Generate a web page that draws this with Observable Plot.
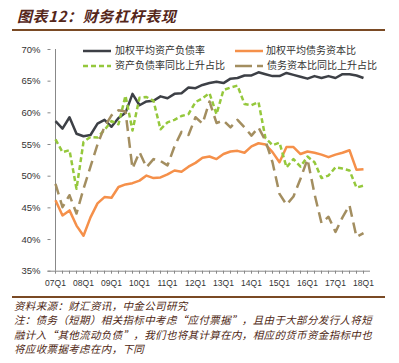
<!DOCTYPE html>
<html><head><meta charset="utf-8">
<script src="https://cdn.jsdelivr.net/npm/d3@7"></script>
<script src="https://cdn.jsdelivr.net/npm/@observablehq/plot@0.6"></script>
<style>
body{margin:0;background:#fff;}
#wrap{position:relative;width:399px;height:363px;overflow:hidden;background:#fff;font-family:"Noto Sans CJK SC","Noto Sans",sans-serif;}
#chart{position:absolute;left:0;top:0;}
#title{position:absolute;left:17px;top:6px;font-size:15px;line-height:20px;font-style:italic;font-weight:bold;color:#55261a;letter-spacing:0.6px;white-space:nowrap;}
.rule{position:absolute;left:12px;width:373px;background:#7a4a24;}
.leg{position:absolute;font-size:10px;line-height:12px;color:#333;white-space:nowrap;}
.sw{position:absolute;}
.foot{position:absolute;left:14px;font-size:10.5px;line-height:13px;height:13px;font-style:italic;color:#4e1f12;white-space:nowrap;letter-spacing:0.35px;}
</style>
</head><body>
<div id="wrap">
  <div id="chart"></div>
  <div id="title">图表12：财务杠杆表现</div>
  <div class="rule" style="top:29px;height:1.5px;"></div>
  <div id="legend"></div>
  <div class="rule" style="top:296px;height:2px;"></div>
  <div id="footer"></div>
</div>
<script>
// ---- data ----
const quarters = ["07Q1","07Q2","07Q3","07Q4","08Q1","08Q2","08Q3","08Q4","09Q1","09Q2","09Q3","09Q4",
  "10Q1","10Q2","10Q3","10Q4","11Q1","11Q2","11Q3","11Q4","12Q1","12Q2","12Q3","12Q4",
  "13Q1","13Q2","13Q3","13Q4","14Q1","14Q2","14Q3","14Q4","15Q1","15Q2","15Q3","15Q4",
  "16Q1","16Q2","16Q3","16Q4","17Q1","17Q2","17Q3","17Q4","18Q1"];
const xTickLabels = ["07Q1","08Q1","09Q1","10Q1","11Q1","12Q1","13Q1","14Q1","15Q1","16Q1","17Q1","18Q1"];
const yTicks = [35,40,45,50,55,60,65,70];

const seriesNames = ["加权平均资产负债率","加权平均债务资本比","资产负债率同比上升占比","债务资本比同比上升占比"];
const weightedDebtRatio = [58.7,57.5,59.3,56.7,56.3,56.5,58.3,58.9,57.8,59.2,60.0,63.0,61.2,61.8,61.9,62.6,62.3,63.0,63.1,64.0,
  63.9,64.4,64.7,64.9,64.7,65.4,65.5,65.9,65.9,66.4,66.1,65.8,65.8,66.3,66.0,65.7,65.4,65.8,65.5,65.8,65.5,66.1,66.1,65.9,65.5];
const weightedDebtCapital = [46.2,43.8,44.6,42.2,40.6,43.5,45.7,46.7,46.6,48.3,48.7,48.9,49.3,50.1,49.7,49.8,50.3,50.9,50.7,51.5,
  52.1,52.9,53.1,52.7,53.5,53.9,54.0,53.7,54.7,55.2,55.0,53.8,52.2,54.6,54.6,53.5,53.9,53.7,53.4,53.0,53.4,53.7,54.1,51.0,51.1];
const debtRatioUpShare = [55.8,53.8,54.1,48.0,55.4,56.2,56.1,57.3,58.7,58.2,62.7,57.2,62.4,62.5,61.9,57.4,58.5,58.9,59.5,59.8,
  61.7,62.3,63.1,59.8,63.6,64.0,64.3,61.4,61.2,61.7,56.0,54.9,55.3,51.4,52.7,51.5,53.1,52.2,49.7,50.1,51.4,51.2,50.9,48.2,48.5];
const debtCapitalUpShare = [48.8,45.1,47.0,44.1,48.0,51.5,55.0,57.8,59.6,60.4,60.2,51.2,53.8,51.4,52.7,52.4,51.7,54.7,57.0,56.5,
  59.3,58.3,61.8,58.4,58.8,57.7,58.9,57.7,56.4,57.7,55.6,52.2,47.2,45.5,46.8,49.6,52.7,47.2,42.6,43.6,41.2,43.5,45.4,40.4,41.0];

const colors = ["#3d4046","#f5904a","#95c83c","#a38e60"];
const dashes = [null, null, "5,3", "11,6"];
const allSeries = [weightedDebtRatio, weightedDebtCapital, debtRatioUpShare, debtCapitalUpShare];

const rows = vals => quarters.map((q, i) => ({q, v: vals[i]}));

const plot = Plot.plot({
  width: 399, height: 292,
  marginLeft: 47.5, marginRight: 29, marginTop: 49, marginBottom: 21.3,
  x: {type: "point", domain: quarters, padding: 0},
  y: {domain: [35, 70]},
  style: {fontFamily: "Arial, 'Liberation Sans', sans-serif", fontSize: "9px", color: "#333", background: "transparent", overflow: "visible"},
  marks: [
    Plot.axisY({ticks: yTicks, tickFormat: d => d + "%", tickSize: 0, tickPadding: 7.5, label: null, fontSize: 9.5}),
    Plot.axisY({ticks: yTicks, tickFormat: () => "", tickSize: 3, dx: 3, stroke: "#888", label: null}),
    Plot.axisX({ticks: quarters, tickFormat: () => "", tickSize: 3, stroke: "#888", label: null}),
    Plot.axisX({ticks: xTickLabels, tickSize: 0, tickPadding: 8.5, label: null, fontSize: 8.5}),
    Plot.ruleX([quarters[0]], {stroke: "#888", strokeWidth: 1}),
    Plot.ruleY([35], {stroke: "#888", strokeWidth: 1}),
    ...allSeries.map((s, k) => Plot.line(rows(s), {
      x: "q", y: "v", stroke: colors[k], strokeWidth: 2.5,
      strokeDasharray: dashes[k] || undefined, strokeLinejoin: "round", strokeLinecap: "butt"
    }))
  ]
});
document.getElementById("chart").appendChild(plot);

// ---- legend ----
const legPos = [
  {sx: 83, tx: 115, cy: 50.8},
  {sx: 235, tx: 266, cy: 50.8},
  {sx: 83, tx: 115, cy: 65.8},
  {sx: 235, tx: 267, cy: 65.8}
];
const leg = document.getElementById("legend");
seriesNames.forEach((name, k) => {
  const p = legPos[k];
  const sw = document.createElementNS("http://www.w3.org/2000/svg", "svg");
  sw.setAttribute("class", "sw");
  sw.setAttribute("width", 28); sw.setAttribute("height", 6);
  sw.style.left = p.sx + "px"; sw.style.top = (p.cy - 3) + "px";
  const ln = document.createElementNS("http://www.w3.org/2000/svg", "line");
  ln.setAttribute("x1", 0); ln.setAttribute("x2", 28); ln.setAttribute("y1", 3); ln.setAttribute("y2", 3);
  ln.setAttribute("stroke", colors[k]); ln.setAttribute("stroke-width", 2.5);
  if (dashes[k]) ln.setAttribute("stroke-dasharray", k === 3 ? "17,5" : "5,3");
  sw.appendChild(ln);
  leg.appendChild(sw);
  const t = document.createElement("div");
  t.className = "leg";
  t.textContent = name;
  t.style.left = p.tx + "px"; t.style.top = (p.cy - 6.5) + "px";
  leg.appendChild(t);
});

// ---- footer ----
const footerLines = [
  "资料来源：财汇资讯，中金公司研究",
  "注：债务（短期）相关指标中考虑“应付票据”，且由于大部分发行人将短",
  "融计入“其他流动负债”，我们也将其计算在内，相应的货币资金指标中也",
  "将应收票据考虑在内，下同"
];
const foot = document.getElementById("footer");
footerLines.forEach((s, i) => {
  const d = document.createElement("div");
  d.className = "foot";
  d.textContent = s;
  d.style.top = (299 + i * 14.3) + "px";
  foot.appendChild(d);
});
</script>
</body></html>
